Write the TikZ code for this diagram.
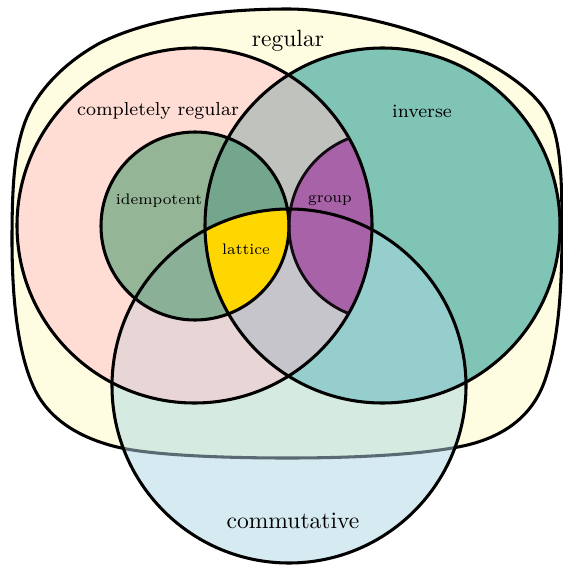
\documentclass[tikz,border=0pt]{standalone}
\definecolor{cBlob}{HTML}{FFFDE1}
\definecolor{cCR}{HTML}{FFDDD5}
\definecolor{cINV}{HTML}{80C4B6}
\definecolor{cCRINV}{HTML}{C0C2BD}
\definecolor{cIDEM}{HTML}{94B696}
\definecolor{cIDINV}{HTML}{74A68E}
\definecolor{cGRP}{HTML}{A862A8}
\definecolor{cLAT}{HTML}{FFD700}
\definecolor{cCommOut}{HTML}{D6EAF1}
\definecolor{cCommIn}{HTML}{D5EAE1}
\definecolor{cCRc}{HTML}{E8D5D6}
\definecolor{cINVc}{HTML}{96CDCD}
\definecolor{cCRINVc}{HTML}{C6C5CB}
\definecolor{cIDEMc}{HTML}{8AB198}
\definecolor{cLine}{HTML}{5A6A72}
\begin{document}
\begin{tikzpicture}[x=0.425pt,y=-0.425pt,line width=1.3pt,
  lblbig/.style={text=black,inner sep=0pt,font=\fontsize{10}{12}\selectfont},
  lblmid/.style={text=black,inner sep=0pt,font=\fontsize{8}{10}\selectfont},
  lblsmall/.style={text=black,inner sep=0pt,font=\fontsize{6.5}{8}\selectfont}]
\useasboundingbox (0,0) rectangle (563,565);
\def\blob{(288,9) .. controls (330,9) and (390,22) .. (430,37)
  .. controls (478,55) and (525,80) .. (545,110)
  .. controls (560,133) and (562,170) .. (562,230)
  .. controls (562,300) and (557,345) .. (545,380)
  .. controls (533,415) and (505,437) .. (463,446)
  .. controls (420,455) and (350,458) .. (288,458)
  .. controls (220,458) and (150,455) .. (117,447)
  .. controls (80,438) and (50,420) .. (35,390)
  .. controls (18,355) and (12,300) .. (12,240)
  .. controls (12,180) and (15,150) .. (25,122)
  .. controls (35,95) and (60,65) .. (100,43)
  .. controls (150,18) and (220,9) .. (288,9) -- cycle}
\def\CR{(194.5,225.5) circle[radius=177.5]}
\def\INV{(382.5,225.5) circle[radius=177.5]}
\def\IDEM{(195,226) circle[radius=94]}
\def\GRP{(383,226) circle[radius=94]}
\def\COMM{(289,386) circle[radius=177]}
% fills
\fill[cBlob] \blob;
\draw \blob;
\fill[cCommOut] \COMM;
\begin{scope}\clip \blob; \fill[cCommIn] \COMM; \end{scope}
\fill[cCR] \CR;
\fill[cINV] \INV;
\begin{scope}\clip \CR; \fill[cCRINV] \INV; \end{scope}
\fill[cIDEM] \IDEM;
\begin{scope}\clip \IDEM; \fill[cIDINV] \INV; \end{scope}
\begin{scope}
  \clip \COMM;
  \fill[cCRc] \CR;
  \fill[cINVc] \INV;
  \begin{scope}\clip \CR; \fill[cCRINVc] \INV; \end{scope}
  \fill[cIDEMc] \IDEM;
  \begin{scope}\clip \IDEM; \fill[cLAT] \INV; \end{scope}
\end{scope}
\begin{scope}\clip \CR; \fill[cGRP] \GRP; \end{scope}
% strokes
\begin{scope}\clip \COMM; \draw[cLine] \blob; \end{scope}
\draw \CR;
\draw \INV;
\draw \IDEM;
\begin{scope}\clip \CR; \draw[black!90!cGRP,line width=1.2pt] \GRP; \end{scope}
\draw \COMM;
% labels
\node[lblbig] (regular) at (288,41) {regular};
\node[lblmid] (cr) at (158,111) {completely regular};
\node[lblmid] (inv) at (422,111) {inverse};
\node[lblsmall] (idem) at (159,201) {idempotent};
\node[lblsmall] (grp) at (330,201) {group};
\node[lblsmall] (lat) at (246,249) {lattice};
\node[lblbig] (comm) at (293,521) {commutative};
\end{tikzpicture}
\end{document}
